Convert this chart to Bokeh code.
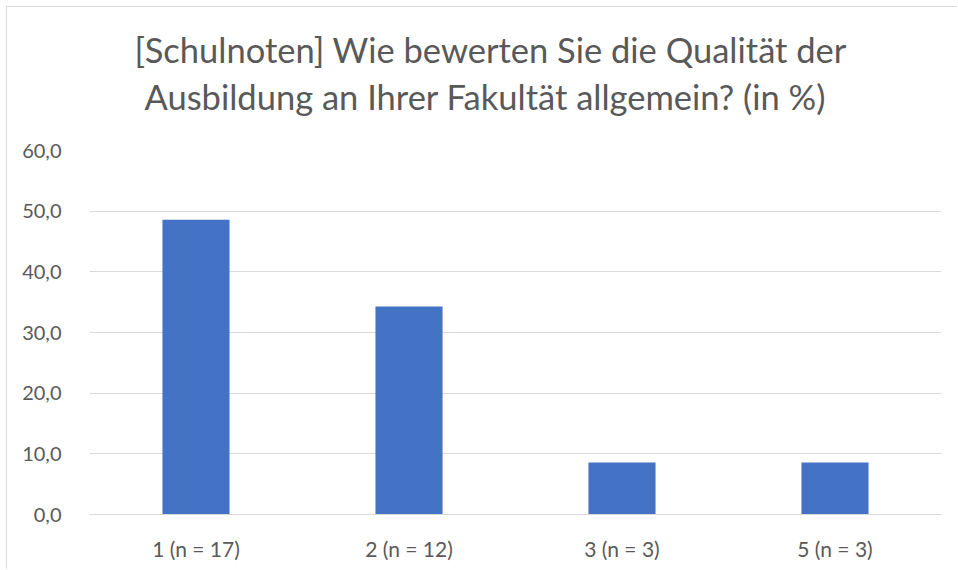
from bokeh.plotting import figure
from bokeh.models import Title, FixedTicker, CustomJSTickFormatter
from bokeh.embed import file_html
from bokeh.resources import INLINE

categories = ["1 (n = 17)", "2 (n = 12)", "3 (n = 3)", "5 (n = 3)"]
percent = [48.57, 34.29, 8.57, 8.57]
y_ticks = [0, 10, 20, 30, 40, 50, 60]
title_lines = ["[Schulnoten] Wie bewerten Sie die Qualität der",
               "Ausbildung an Ihrer Fakultät allgemein? (in %)"]

FONT = "Lato"
TXT = "#595959"
GRID = "#d9d9d9"

p = figure(x_range=categories, y_range=(0, 60), width=951, height=563,
           output_backend="svg", toolbar_location=None, title=None,
           min_border_left=82, min_border_right=17, min_border_top=143, min_border_bottom=56)
p.vbar(x=categories, top=percent, width=0.315, color="#4472c4", line_color=None)

p.x_range.range_padding = 0
p.outline_line_color = None
p.background_fill_color = "white"
p.border_fill_color = "white"

p.yaxis.ticker = FixedTicker(ticks=y_ticks)
p.yaxis.formatter = CustomJSTickFormatter(code="return tick.toFixed(1).replace('.', ',');")
p.yaxis.axis_line_color = None
p.yaxis.major_tick_line_color = None
p.yaxis.minor_tick_line_color = None
p.yaxis.major_label_standoff = 22
p.yaxis.major_label_text_font = FONT
p.yaxis.major_label_text_font_size = "20px"
p.yaxis.major_label_text_color = TXT

p.xaxis.axis_line_color = GRID
p.xaxis.axis_line_width = 1
p.xaxis.major_tick_line_color = None
p.xaxis.minor_tick_line_color = None
p.xaxis.major_label_standoff = 15
p.xaxis.major_label_text_font = FONT
p.xaxis.major_label_text_font_size = "21px"
p.xaxis.major_label_text_color = TXT

p.xgrid.grid_line_color = None
p.ygrid.grid_line_color = GRID
p.ygrid.grid_line_width = 1

# blank spacer closest to the frame, then the second line, then the first line
p.add_layout(Title(text=" ", align="left", standoff=0,
                   text_font=FONT, text_font_size="26px", text_color=TXT), "above")
p.add_layout(Title(text=title_lines[1], align="left", offset=55, standoff=0,
                   text_font=FONT, text_font_size="34.5px", text_font_style="normal",
                   text_color=TXT), "above")
p.add_layout(Title(text=title_lines[0], align="left", offset=45, standoff=7,
                   text_font=FONT, text_font_size="34.5px", text_font_style="normal",
                   text_color=TXT), "above")

p.styles = {"border-left": "1px solid #d9d9d9", "border-top": "1px solid #d9d9d9",
            "margin-left": "6px", "margin-top": "6px"}

open("out.html", "w").write(file_html(p, INLINE))
